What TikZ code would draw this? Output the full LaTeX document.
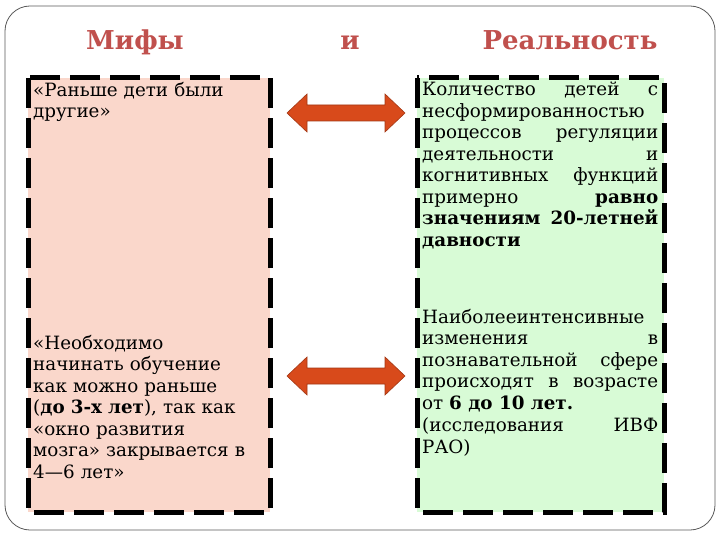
\documentclass[tikz,border=0pt]{standalone}
\usepackage{fontspec}
\setmainfont{DejaVu Serif}
\definecolor{ttl}{HTML}{C0504D}
\definecolor{pinkbg}{HTML}{FAD7CB}
\definecolor{greenbg}{HTML}{D8FBD6}
\definecolor{arr}{HTML}{D84A1B}
\begin{document}
\begin{tikzpicture}[x=1pt,y=-1pt,
  title/.style={font=\fontsize{26}{30}\selectfont\bfseries, text=ttl, anchor=base},
  box/.style={draw=black, line width=5pt, dash pattern=on 30pt off 10pt},
  txt/.style={font=\fontsize{18.3}{21.5}\selectfont, anchor=north west, inner sep=0pt},
  dbl/.style={fill=arr, draw=arr!75!black, line width=0.6pt, line join=miter}]
\useasboundingbox (0,0) rectangle (720,540);
\draw[gray!70!black, line width=0.8pt, rounded corners=25pt] (5,6) rectangle (715,530);
\node[title] (t1) at (135,50) {Мифы};
\node[title] (t2) at (350,50) {и};
\node[title] (t3) at (570,50) {Реальность};
\fill[pinkbg] (28,78) rectangle (270,512);
\draw[box] (28,78) rectangle (270,512);
\fill[greenbg] (417,78) rectangle (664,512);
\draw[box] (417,78) rectangle (664,512);
\node[txt, align=left, text width=240pt] (l1) at (33,82) {«Раньше дети были\\другие»};
\node[txt, align=left, text width=240pt] (l2) at (33,335) {«Необходимо\\начинать обучение\\как можно раньше\\(\textbf{до 3-х лет}), так как\\«окно развития\\мозга» закрывается в\\4—6 лет»};
\node[txt, align=justify, text width=236pt] (r1) at (422,82) {Количество детей с\linebreak несформированностью\linebreak процессов регуляции\linebreak деятельности и\linebreak когнитивных функций\linebreak примерно \textbf{равно\linebreak значениям 20-летней\linebreak давности}};
\node[txt, align=justify, text width=236pt] (r2) at (422,309) {Наиболееинтенсивные\linebreak изменения в\linebreak познавательной сфере\linebreak происходят в возрасте\linebreak от \textbf{6 до 10 лет.}\par\vspace{1pt}(исследования ИВФ\linebreak РАО)};
\foreach \n/\yy in {a1/113, a2/376}{
  \draw[dbl] (287,\yy) -- (307,\yy-19) -- (307,\yy-8) -- (385,\yy-8) -- (385,\yy-19) -- (405,\yy)
    -- (385,\yy+19) -- (385,\yy+8) -- (307,\yy+8) -- (307,\yy+19) -- cycle;
  \coordinate (\n) at (346,\yy);
}
\end{tikzpicture}
\end{document}
